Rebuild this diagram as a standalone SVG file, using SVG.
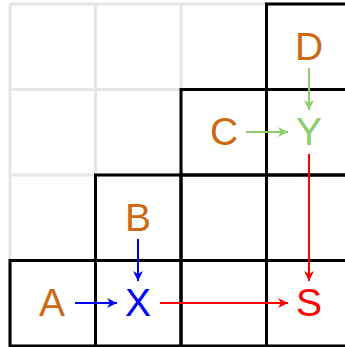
<svg xmlns="http://www.w3.org/2000/svg" width="345" height="347" viewBox="0 0 345 347">
  <style>
    .grid { stroke: #e6e6e6; stroke-width: 3; fill: none; }
    .cell { stroke: #000; stroke-width: 3; fill: none; }
    .lbl { font-family: "Liberation Sans", Arial, sans-serif; font-size: 39px; text-anchor: middle; }
    .src { fill: #cc6a14; }
    .edge { stroke-width: 2; fill: none; }
  </style>
  <defs>
    <marker id="ah-green" viewBox="0 0 10 10" refX="10" refY="5" markerWidth="10" markerHeight="10" markerUnits="userSpaceOnUse" orient="auto">
      <path d="M0,0 L10,5 L0,10 L3,5 z" fill="#8ccf6a"/>
    </marker>
    <marker id="ah-blue" viewBox="0 0 10 10" refX="10" refY="5" markerWidth="10" markerHeight="10" markerUnits="userSpaceOnUse" orient="auto">
      <path d="M0,0 L10,5 L0,10 L3,5 z" fill="#0000ff"/>
    </marker>
    <marker id="ah-red" viewBox="0 0 10 10" refX="10" refY="5" markerWidth="10" markerHeight="10" markerUnits="userSpaceOnUse" orient="auto">
      <path d="M0,0 L10,5 L0,10 L3,5 z" fill="#ff0000"/>
    </marker>
  </defs>

  <!-- light background grid, 4x4 cells of 85.5px -->
  <g id="grid" class="grid">
    <path d="M10,4 V346 M95.5,4 V346 M181,4 V346 M266.5,4 V346 M10,4 H352 M10,89.5 H352 M10,175 H352 M10,260.5 H352 M10,346 H352"/>
  </g>

  <!-- staircase of outlined cells -->
  <g id="staircase" class="cell">
    <rect x="266.5" y="4" width="85.5" height="85.5"/>
    <rect x="181" y="89.5" width="85.5" height="85.5"/>
    <rect x="266.5" y="89.5" width="85.5" height="85.5"/>
    <rect x="95.5" y="175" width="85.5" height="85.5"/>
    <rect x="181" y="175" width="85.5" height="85.5"/>
    <rect x="266.5" y="175" width="85.5" height="85.5"/>
    <rect x="10" y="260.5" width="85.5" height="85.5"/>
    <rect x="95.5" y="260.5" width="85.5" height="85.5"/>
    <rect x="181" y="260.5" width="85.5" height="85.5"/>
    <rect x="266.5" y="260.5" width="85.5" height="85.5"/>
  </g>

  <g id="connectors" class="edge">
    <line x1="309" y1="68" x2="309" y2="110" stroke="#8ccf6a" marker-end="url(#ah-green)"/>
    <line x1="246" y1="132" x2="288" y2="132" stroke="#8ccf6a" marker-end="url(#ah-green)"/>
    <line x1="309" y1="154" x2="309" y2="281" stroke="#ff0000" marker-end="url(#ah-red)"/>
    <line x1="160" y1="303" x2="288" y2="303" stroke="#ff0000" marker-end="url(#ah-red)"/>
    <line x1="75" y1="303" x2="117" y2="303" stroke="#0000ff" marker-end="url(#ah-blue)"/>
    <line x1="138" y1="239" x2="138" y2="281" stroke="#0000ff" marker-end="url(#ah-blue)"/>
  </g>

  <g id="D"><text class="lbl src" x="309" y="60">D</text></g>
  <g id="C"><text class="lbl src" x="224" y="145">C</text></g>
  <g id="Y"><text class="lbl" x="309" y="145" fill="#8ccf6a">Y</text></g>
  <g id="B"><text class="lbl src" x="138" y="231">B</text></g>
  <g id="A"><text class="lbl src" x="52" y="316">A</text></g>
  <g id="X"><text class="lbl" x="138" y="316" fill="#0000ff">X</text></g>
  <g id="S"><text class="lbl" x="309" y="316" fill="#ff0000">S</text></g>
</svg>
